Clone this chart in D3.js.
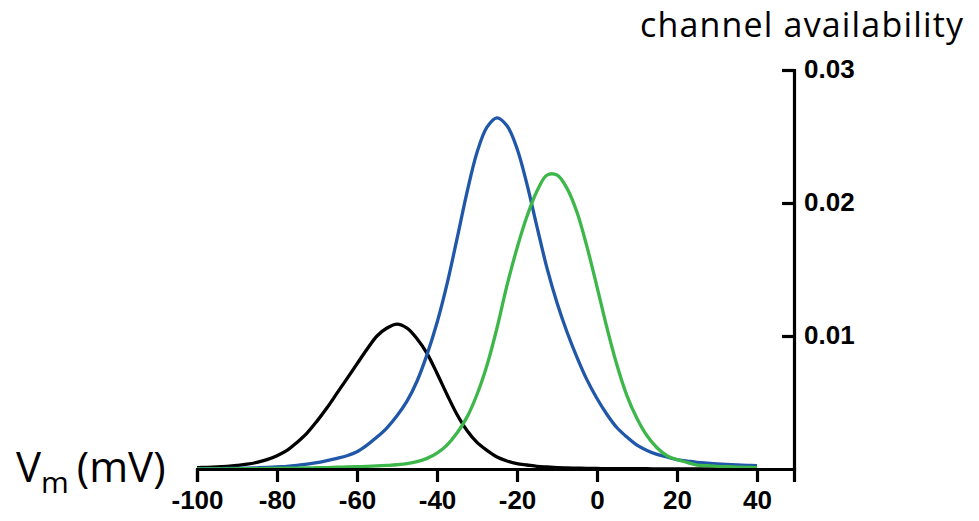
<!DOCTYPE html>
<html>
<head>
<meta charset="utf-8">
<script src="https://cdn.jsdelivr.net/npm/d3@7"></script>
<style>
  body { margin: 0; background: #fff; }
  .tick text { font-family: "Liberation Sans", Arial, sans-serif; font-weight: bold; }
</style>
</head>
<body>
<div id="chart"></div>
<script>
// membrane potential grid (mV)
const voltages = [
  -100, -97.5, -95, -92.5, -90, -87.5, -85, -82.5, -80, -77.5,
  -75, -72.5, -70, -67.5, -65, -62.5, -60, -57.5, -55, -52.5,
  -50, -47.5, -45, -42.5, -40, -37.5, -35, -32.5, -30, -27.5,
  -25, -22.5, -20, -17.5, -15, -12.5, -10, -7.5, -5, -2.5,
  0, 2.5, 5, 7.5, 10, 12.5, 15, 17.5, 20, 22.5,
  25, 27.5, 30, 32.5, 35, 37.5, 40
];

const blackValues = [
  .0001, .00012, .00015, .0002, .00027, .00036, .0005, .0007, .0010, .0014,
  .0020, .0027, .0036, .0046, .0057, .0068, .0079, .0090, .0100, .0106,
  .0109, .0106, .0098, .0087, .0072, .0056, .0041, .0029, .0020, .0014,
  .0009, .0006, .0004, .0003, .0002, .00015, .00011, .00008, .00006, .00005,
  .00004, .00003, .00003, .00002, .00002, .00002, .00001, .00001, .00001, .00001,
  .00001, 0, 0, 0, 0, 0, 0
];

const blueValues = [
  .00001, .00002, .00003, .00004, .00005, .00007, .00009, .00012, .00016, .0002,
  .00027, .00036, .00048, .00063, .0008, .0010, .0013, .0018, .0024, .0031,
  .0040, .0051, .0066, .0086, .0110, .0139, .0173, .0208, .0238, .0257,
  .0264, .0258, .0241, .0214, .0182, .0151, .0125, .0103, .0084, .0067,
  .0053, .0041, .0031, .0024, .0018, .0014, .0011, .0009, .0007, .0006,
  .0005, .00044, .00039, .00035, .00031, .00028, .00025
];

const greenValues = [
  0, 0, .00001, .00001, .00002, .00002, .00003, .00004, .00005, .00006,
  .00007, .00008, .0001, .00011, .00013, .00015, .00017, .0002, .00023, .00027,
  .00032, .0004, .00055, .0008, .0012, .0018, .0027, .0039, .0056, .0078,
  .0106, .0138, .0166, .0190, .0209, .0221, .0221, .0211, .0193, .0167,
  .0137, .0106, .0078, .0055, .0038, .0025, .0016, .0010, .0007, .0005,
  .0003, .00025, .0002, .00017, .00014, .00012, .0001
];

const xTicks = [-100, -80, -60, -40, -20, 0, 20, 40];
const yTicks = [0.01, 0.02, 0.03];

const series = [
  {name: "black", values: blackValues, color: "#000000"},
  {name: "blue", values: blueValues, color: "#2057a8"},
  {name: "green", values: greenValues, color: "#3db64a"}
];

const width = 979, height = 521;

var x = d3.scaleLinear()
          .domain([-100, 49.25])
          .range([197, 794]);
var y = d3.scaleLinear()
          .domain([0, 0.03])
          .range([469, 70]);

var svg = d3.select("#chart").append("svg")
    .attr("width", width)
    .attr("height", height);

var line = d3.line()
    .x(function(d) { return x(d.v); })
    .y(function(d) { return y(d.a); })
    .curve(d3.curveCatmullRom);

// curves
svg.selectAll(".curve")
   .data(series)
   .enter().append("path")
   .attr("class", "curve")
   .attr("fill", "none")
   .attr("stroke", function(d) { return d.color; })
   .attr("stroke-width", 3.3)
   .attr("stroke-linejoin", "round")
   .attr("d", function(d) {
     return line(voltages.map(function(v, i) { return {v: v, a: d.values[i]}; }));
   });

// x axis
var xAxis = svg.append("g")
   .attr("transform", `translate(0, ${y(0)})`)
   .call(d3.axisBottom(x).tickValues(xTicks).tickSizeOuter(0).tickSize(13).tickPadding(9)
          .tickFormat(function(d) { return String(d); }));

// y axis (ticks inward, labels outward)
var yAxis = svg.append("g")
   .attr("transform", `translate(${x(49.25)}, 0)`)
   .call(d3.axisRight(y).tickValues(yTicks).tickSizeOuter(0).tickSize(-12).tickPadding(10)
          .tickFormat(d3.format(".2f")));

[xAxis, yAxis].forEach(function(g) {
  g.selectAll("path, line").attr("stroke", "#000").attr("stroke-width", 3.2);
  g.selectAll("text").attr("fill", "#000").style("font-size", "26px");
});
yAxis.selectAll("text").attr("dy", "0.3em");

// axis titles
svg.append("text")
   .attr("x", 640)
   .attr("y", 37)
   .attr("font-family", "'Open Sans', 'Noto Sans', sans-serif")
   .attr("font-size", 34)
   .attr("textLength", 323)
   .text("channel availability");

var vm = svg.append("text")
   .attr("x", 16)
   .attr("y", 482)
   .attr("font-family", "'Open Sans', 'Noto Sans', sans-serif")
   .attr("font-size", 42);
vm.append("tspan").text("V");
vm.append("tspan").attr("font-size", 30).attr("dy", 11).text("m");
vm.append("tspan").attr("dy", -11).attr("dx", 8).text("(mV)");
</script>
</body>
</html>
